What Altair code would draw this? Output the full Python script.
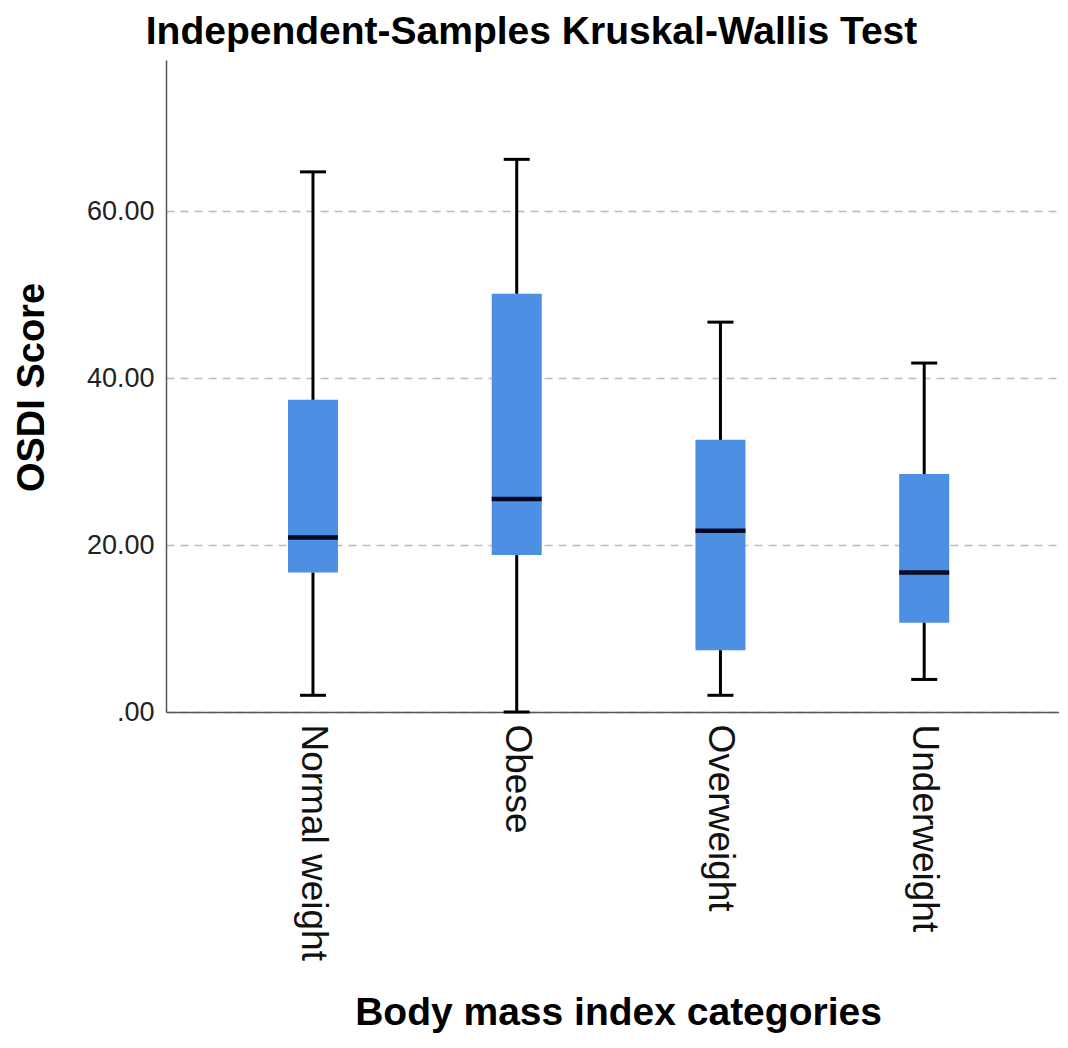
import altair as alt
import pandas as pd

categories = ["Normal weight", "Obese", "Overweight", "Underweight"]
whisker_low = [2.0, 0.0, 2.0, 3.9]
q1 = [16.7, 18.8, 7.4, 10.7]
median = [20.9, 25.5, 21.7, 16.7]
q3 = [37.4, 50.1, 32.6, 28.5]
whisker_high = [64.7, 66.2, 46.7, 41.8]
y_ticks = [0, 20, 40, 60]

df = pd.DataFrame({
    "category": categories,
    "low": whisker_low,
    "q1": q1,
    "median": median,
    "q3": q3,
    "high": whisker_high,
})

FONT = "Liberation Sans"

xscale = alt.Scale(domain=categories, paddingInner=0, paddingOuter=0.1915, align=0.578)
yscale = alt.Scale(domain=[0, 78.1], nice=False, zero=False)

x_enc = alt.X(
    "category:N",
    sort=categories,
    scale=xscale,
    axis=alt.Axis(
        title="Body mass index categories",
        titleFont=FONT,
        titleFontSize=39,
        titleFontWeight="bold",
        titleColor="#000000",
        titleX=452,
        titleY=312,
        titleBaseline="alphabetic",
        titleAlign="center",
        labelAngle=90,
        labelAlign="left",
        labelBaseline="middle",
        labelFont=FONT,
        labelFontSize=37,
        labelColor="#111111",
        labelPadding=12,
        labelLimit=0,
        ticks=False,
        domainColor="#555555",
        domainWidth=1.5,
        grid=False,
    ),
)

y_axis = alt.Axis(
    title="OSDI Score",
    titleFont=FONT,
    titleFontSize=38,
    titleFontWeight="bold",
    titleColor="#000000",
    titleAngle=-90,
    titleX=-134,
    titleY=327,
    titleAlign="center",
    titleBaseline="middle",
    values=y_ticks,
    labelExpr="datum.value == 0 ? '.00' : format(datum.value, '.2f')",
    labelFont=FONT,
    labelFontSize=27,
    labelColor="#222222",
    labelPadding=12,
    ticks=False,
    domainColor="#555555",
    domainWidth=1.5,
    grid=True,
    gridColor="#bbbbbb",
    gridDash=[8, 6],
    gridWidth=1.5,
)

base = alt.Chart(df)

box = base.mark_bar(size=50, color="#4d8fe3").encode(
    x=x_enc,
    y=alt.Y("q1:Q", scale=yscale, axis=y_axis),
    y2="q3:Q",
)

lower = base.mark_rule(strokeWidth=3, color="#000000").encode(
    x=alt.X("category:N", sort=categories, scale=xscale),
    y=alt.Y("low:Q", scale=yscale),
    y2="q1:Q",
)
upper = base.mark_rule(strokeWidth=3, color="#000000").encode(
    x=alt.X("category:N", sort=categories, scale=xscale),
    y=alt.Y("q3:Q", scale=yscale),
    y2="high:Q",
)
cap_low = base.mark_tick(size=26, thickness=3, color="#000000", opacity=1).encode(
    x=alt.X("category:N", sort=categories, scale=xscale),
    y=alt.Y("low:Q", scale=yscale),
)
cap_high = base.mark_tick(size=26, thickness=3, color="#000000", opacity=1).encode(
    x=alt.X("category:N", sort=categories, scale=xscale),
    y=alt.Y("high:Q", scale=yscale),
)
med = base.mark_tick(size=50, thickness=4.5, color="#060a26", opacity=1).encode(
    x=alt.X("category:N", sort=categories, scale=xscale),
    y=alt.Y("median:Q", scale=yscale),
)

chart = (
    alt.layer(box, lower, upper, cap_low, cap_high, med)
    .properties(
        width=893,
        height=652,
        title=alt.TitleParams(
            text="Independent-Samples Kruskal-Wallis Test",
            font=FONT,
            fontSize=39,
            fontWeight="bold",
            color="#000000",
            anchor="middle",
            dx=-81,
            dy=-4,
        ),
        autosize=alt.AutoSizeParams(type="none"),
        padding={"left": 158, "top": 52, "right": 0, "bottom": 322},
    )
    .configure(background="white")
    .configure_view(strokeWidth=0, stroke="transparent")
)

chart.save("out.html", embed_options={"renderer": "svg", "actions": False})
